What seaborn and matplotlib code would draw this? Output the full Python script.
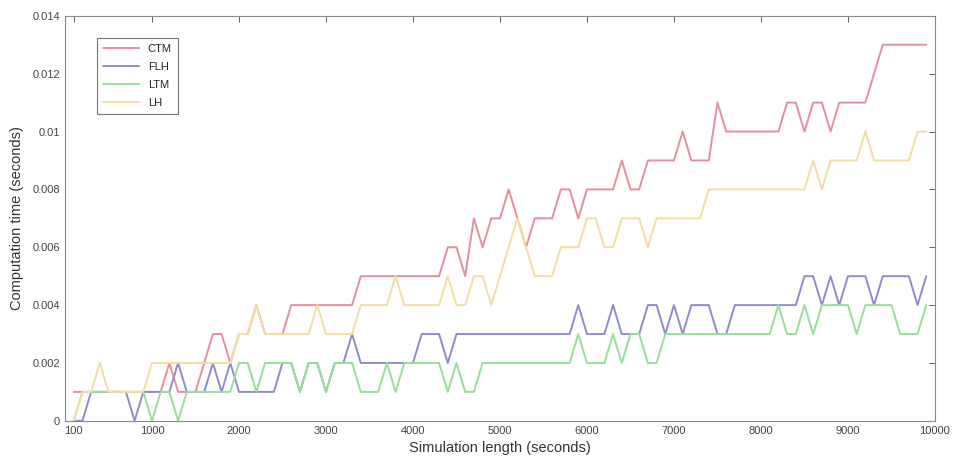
import numpy as np
import pandas as pd
import matplotlib
matplotlib.use("Agg")
import matplotlib.pyplot as plt
import seaborn as sns

# simulation lengths (seconds)
sim_length = list(range(100, 10000, 100))

# computation times in milliseconds
ctm_ms = ([1] * 11 + [2, 1, 1, 1, 2, 3, 3, 2, 3, 3, 4, 3, 3, 3] + [4] * 8 + [5] * 10
          + [6, 6, 5, 7, 6, 7, 7, 8, 7, 6, 7, 7, 7, 8, 8, 7, 8, 8, 8, 8, 9, 8, 8]
          + [9, 9, 9, 9, 10, 9, 9, 9, 11] + [10] * 7 + [11, 11, 10, 11, 11, 10]
          + [11, 11, 11, 11, 12] + [13] * 6)
flh_ms = ([0, 0, 1, 1, 1, 1, 1, 0, 1, 1, 1, 1, 2, 1, 1, 1, 2, 1, 2, 1, 1, 1, 1, 1]
          + [2, 2, 1, 2, 2, 1, 2, 2, 3] + [2] * 7 + [3, 3, 3, 2] + [3] * 14
          + [4, 3, 3, 3, 4, 3, 3, 3, 4, 4, 3, 4, 3, 4, 4, 4, 3, 3] + [4] * 8
          + [5, 5, 4, 5, 4, 5, 5, 5, 4, 5, 5, 5, 5, 4, 5])
ltm_ms = ([0] + [1] * 8 + [0, 1, 1, 0] + [1] * 6 + [2, 2, 1, 2, 2, 2, 2, 1, 2, 2, 1]
          + [2, 2, 2, 1, 1, 1, 2, 1, 2, 2, 2, 2, 2, 1, 2, 1, 1] + [2] * 11
          + [3, 2, 2, 2, 3, 2, 3, 3, 2, 2] + [3] * 13
          + [4, 3, 3, 4, 3, 4, 4, 4, 4, 3, 4, 4, 4, 4, 3, 3, 3, 4])
lh_ms = ([0, 1, 1, 2, 1, 1, 1, 1, 1] + [2] * 10 + [3, 3, 4] + [3] * 6 + [4, 3, 3, 3, 3]
         + [4, 4, 4, 4, 5, 4, 4, 4, 4, 4, 5, 4, 4, 5, 5, 4, 5, 6, 7, 6, 5, 5, 5]
         + [6, 6, 6, 7, 7, 6, 6, 7, 7, 7, 6] + [7] * 6 + [8] * 12
         + [9, 8, 9, 9, 9, 9, 10, 9, 9, 9, 9, 9, 10, 10])

series_names = ["CTM", "FLH", "LTM", "LH"]
series_colors = ["#e4909b", "#8f8cce", "#98de98", "#f2dea2"]

x_ticks = [100, 1000, 2000, 3000, 4000, 5000, 6000, 7000, 8000, 9000, 10000]
y_ticks = [0, 0.002, 0.004, 0.006, 0.008, 0.01, 0.012, 0.014]

frames = []
for name, vals in zip(series_names, [ctm_ms, flh_ms, ltm_ms, lh_ms]):
    frames.append(pd.DataFrame({
        "length": sim_length,
        "time": np.array(vals) / 1000.0,
        "method": name,
    }))
df = pd.concat(frames, ignore_index=True)

sns.set_style("white")
plt.rcParams["font.family"] = ["Liberation Sans", "DejaVu Sans"]

fig = plt.figure(figsize=(9.56, 4.65), dpi=100)
ax = fig.add_axes([0.068, 0.095, 0.910, 0.871])

sns.lineplot(data=df, x="length", y="time", hue="method", hue_order=series_names,
             palette=series_colors, linewidth=1.4, ax=ax, legend=True)

ax.set_xlim(0, 10000)
ax.set_ylim(0, 0.014)
ax.set_xticks(x_ticks)
ax.set_xticklabels([str(t) for t in x_ticks])
ax.set_yticks(y_ticks)
ax.set_yticklabels(["%g" % t for t in y_ticks])
ax.tick_params(direction="in", top=True, right=True, length=4, width=0.6,
               labelsize=8, colors="#444444")
for sp in ax.spines.values():
    sp.set_color("#888888")
    sp.set_linewidth(0.8)

ax.set_xlabel("Simulation length (seconds)", fontsize=10.5, color="#333333", labelpad=4)
ax.set_ylabel("Computation time (seconds)", fontsize=10.5, color="#333333", labelpad=6)

leg = ax.legend(loc="upper left", bbox_to_anchor=(0.03, 0.96), fontsize=8,
                frameon=True, fancybox=False, handlelength=3.2, borderpad=0.6,
                labelspacing=0.7)
leg.get_frame().set_edgecolor("#555555")
leg.get_frame().set_linewidth(0.8)

fig.savefig("out.png", dpi=100)
